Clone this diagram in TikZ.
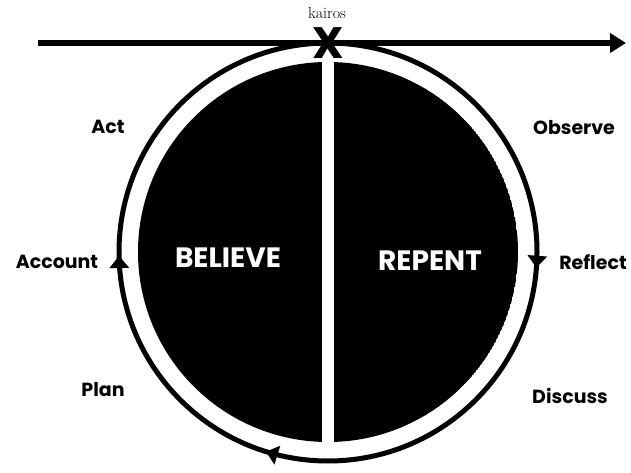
\documentclass[tikz,border=0pt]{standalone}
\usepackage{fontspec}
\setmainfont{Latin Modern Roman}
\newfontfamily\labelfont{Poppins}[UprightFont=* Bold]
\usepackage{tikz}
\usetikzlibrary{arrows.meta, decorations.markings}

\tikzset{
    steplabel/.style={font=\labelfont\fontsize{19}{21}\selectfont, inner sep=0pt},
    halflabel/.style={font=\labelfont\fontsize{28}{30}\selectfont, text=white, inner sep=0pt},
    ringtip/.tip={Triangle[width=19pt,length=12pt]},
    cycle ring/.style={line width=5pt, postaction={decorate}, decoration={markings,
        mark=at position 0.012 with {\arrow{ringtip}},
        mark=at position 0.298 with {\arrow{ringtip}},
        mark=at position 0.497 with {\arrow{ringtip}}}}
}

\begin{document}
\begin{tikzpicture}[x=1pt, y=-1pt]
    \useasboundingbox (0,0) rectangle (631,473);

    % Centre of the cycle
    \coordinate (centre) at (328,252);

    % Two halves
    \begin{scope}
        \clip (centre) circle (190);
        \fill[black] (centre) circle (190);
        \fill[white] (322,0) rectangle (334,473);
    \end{scope}

    % Outer ring, clockwise
    \draw[cycle ring] (centre) circle (209);

    % Time line
    \coordinate (start) at (38,43);
    \coordinate (end) at (626,43);
    \draw[line width=6.5pt, -{Triangle[width=19pt,length=16pt]}] (start) -- (end);
    \node[font=\labelfont\fontsize{44}{46}\selectfont, inner sep=0pt] (mark) at (328,43) {X};
    \node[font=\fontsize{16}{18}\selectfont, inner sep=0pt] (kairos) at (327,13) {kairos};

    % Halves
    \node[halflabel] (believe) at (228,258) {BELIEVE};
    \node[halflabel] (repent) at (430,261) {REPENT};

    % Steps
    \node[steplabel] (act) at (108,127) {Act};
    \node[steplabel] (observe) at (574,128) {Observe};
    \node[steplabel] (account) at (57,262) {Account};
    \node[steplabel] (reflect) at (593,262) {Reflect};
    \node[steplabel] (plan) at (103,390) {Plan};
    \node[steplabel] (discuss) at (570,396) {Discuss};
\end{tikzpicture}
\end{document}
